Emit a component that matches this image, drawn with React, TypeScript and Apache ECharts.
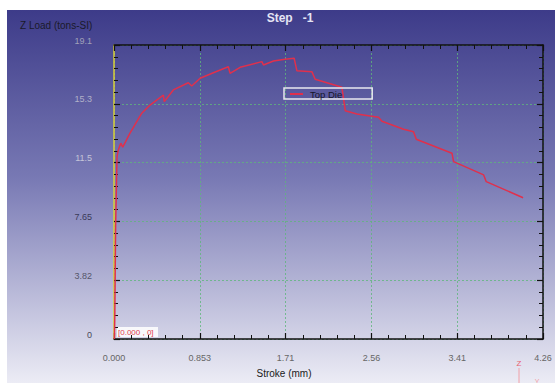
import React, { useEffect, useRef } from "react";
import * as echarts from "echarts";

const strokeMm = [0.004, 0.008, 0.016, 0.03, 0.043, 0.067, 0.087, 0.159, 0.276, 0.358, 0.491, 0.5, 0.59, 0.739, 0.773, 0.856, 0.988, 1.137, 1.154, 1.254, 1.47, 1.486, 1.585, 1.7, 1.791, 1.818, 1.967, 2.0, 2.266, 2.299, 2.415, 2.547, 2.63, 2.664, 2.879, 2.978, 3.005, 3.36, 3.376, 3.675, 3.701, 4.067];
const zLoad = [0, 1.5, 7.3, 11.85, 12.28, 12.72, 12.46, 13.37, 14.67, 15.2, 15.85, 15.42, 16.18, 16.65, 16.44, 16.94, 17.3, 17.69, 17.26, 17.65, 18.02, 17.8, 18.06, 18.17, 18.24, 17.43, 17.37, 16.87, 16.35, 14.83, 14.62, 14.49, 14.41, 14.15, 13.63, 13.47, 12.98, 12.07, 11.52, 10.66, 10.22, 9.18];
const xTickLabels = ["0.000", "0.853", "1.71", "2.56", "3.41", "4.26"];
const yTickLabels = ["0", "3.82", "7.65", "11.5", "15.3", "19.1"];
const xMax = 4.265;
const xStep = 0.853;
const yMax = 19.1;
const yStep = 3.82;

const FONT = "Liberation Sans, Arial, sans-serif";
const yLabelColors = ["#4a4a5a", "#55556a", "#3a3a58", "#c4c4d8", "#b0b0c8", "#a0a0b8"];

export default function App() {
  const ref = useRef<HTMLDivElement>(null);
  useEffect(() => {
    if (!ref.current) return;
    const chart = echarts.init(ref.current, undefined, { renderer: "svg" });
    const idx = (v: number, step: number) => Math.round(v / step);
    const tickCommon = {
      axisTick: { show: true, inside: true, length: 6, lineStyle: { color: "#111", width: 1.2 } },
      minorTick: { show: true, splitNumber: 5, length: 4, lineStyle: { color: "#111", width: 1 } },
    };
    const gridLine = { show: true, lineStyle: { color: "#5fb57c", type: [2, 2] as any, width: 1, opacity: 0.8 } };
    chart.setOption({
      animation: false,
      graphic: [
        {
          type: "rect",
          z: -10,
          silent: true,
          shape: { x: 7, y: 10, width: 548, height: 373 },
          style: {
            fill: new echarts.graphic.LinearGradient(0, 0, 0, 1, [
              { offset: 0, color: "#3d3b89" },
              { offset: 0.45, color: "#7879b4" },
              { offset: 1, color: "#ececf5" },
            ]),
          },
        },
        {
          type: "text",
          x: 290,
          y: 18,
          style: { text: "Step   -1", fill: "#e4e4f4", font: `bold 12px ${FONT}`, align: "center", verticalAlign: "middle" },
        },
        {
          type: "text",
          x: 20,
          y: 25,
          style: { text: "Z Load (tons-SI)", fill: "#1a1a2a", font: `10px ${FONT}`, align: "left", verticalAlign: "middle" },
        },
        {
          type: "text",
          x: 284,
          y: 373,
          style: { text: "Stroke (mm)", fill: "#1a1a1a", font: `10px ${FONT}`, align: "center", verticalAlign: "middle" },
        },
        {
          type: "rect",
          shape: { x: 117, y: 327, width: 41, height: 10 },
          style: { fill: "rgba(255,255,255,0.85)" },
        },
        {
          type: "text",
          x: 118,
          y: 332,
          style: { text: "[0.000 , 0]", fill: "#e04050", font: `8px ${FONT}`, align: "left", verticalAlign: "middle" },
        },
        {
          type: "text",
          x: 519,
          y: 363,
          style: { text: "Z", fill: "#e86070", font: `8px ${FONT}`, align: "center", verticalAlign: "middle" },
        },
        {
          type: "line",
          shape: { x1: 519, y1: 368, x2: 519, y2: 383 },
          style: { stroke: "#f0a0a8", lineWidth: 1 },
        },
        {
          type: "text",
          x: 537,
          y: 381,
          style: { text: "Y", fill: "#f0a0a8", font: `7px ${FONT}`, align: "center", verticalAlign: "middle" },
        },
      ],
      grid: { left: 114, top: 45, right: 12, bottom: 44, containLabel: false },
      legend: {
        left: 284,
        top: 88,
        data: ["Top Die"],
        icon: "rect",
        itemWidth: 13,
        itemHeight: 2,
        itemGap: 5,
        padding: [1, 30, 0, 6],
        borderColor: "#e8e8f0",
        borderWidth: 1.5,
        borderRadius: 0,
        textStyle: { color: "#15152a", fontSize: 9.5, fontFamily: FONT, padding: [0, 0, 0, 2] },
      },
      xAxis: [
        {
          type: "value",
          min: 0,
          max: xMax,
          interval: xStep,
          position: "bottom",
          axisLine: { show: true, onZero: false, lineStyle: { color: "#111", width: 1.5 } },
          ...tickCommon,
          splitLine: gridLine,
          axisLabel: {
            show: true,
            margin: 14,
            color: "#666",
            fontSize: 9,
            fontFamily: FONT,
            formatter: (v: number) => xTickLabels[idx(v, xStep)] ?? "",
          },
        },
        {
          type: "value",
          min: 0,
          max: xMax,
          interval: xStep,
          position: "top",
          axisLine: { show: true, onZero: false, lineStyle: { color: "#111", width: 1.5 } },
          ...tickCommon,
          splitLine: { show: false },
          axisLabel: { show: false },
        },
      ],
      yAxis: [
        {
          type: "value",
          min: 0,
          max: yMax,
          interval: yStep,
          position: "left",
          axisLine: { show: true, onZero: false, lineStyle: { color: "#d8cf3a", width: 1.5 } },
          ...tickCommon,
          splitLine: gridLine,
          axisLabel: {
            show: true,
            margin: 22,
            color: (v: any) => yLabelColors[idx(Number(v), yStep)] ?? "#777",
            fontSize: 9,
            fontFamily: FONT,
            verticalAlign: "bottom",
            formatter: (v: number) => yTickLabels[idx(v, yStep)] ?? "",
          },
        },
        {
          type: "value",
          min: 0,
          max: yMax,
          interval: yStep,
          position: "right",
          axisLine: { show: true, onZero: false, lineStyle: { color: "#111", width: 1.5 } },
          ...tickCommon,
          splitLine: { show: false },
          axisLabel: { show: false },
        },
      ],
      series: [
        {
          name: "Top Die",
          type: "line",
          xAxisIndex: 0,
          yAxisIndex: 0,
          showSymbol: false,
          symbol: "none",
          data: strokeMm.map((x, i) => [x, zLoad[i]]),
          lineStyle: { color: "#e0304c", width: 1.5 },
          itemStyle: { color: "#e0304c" },
        },
      ],
    });
    return () => chart.dispose();
  }, []);
  return <div ref={ref} style={{ position: "fixed", left: 0, top: 0, width: 555, height: 383, background: "#fff" }} />;
}
